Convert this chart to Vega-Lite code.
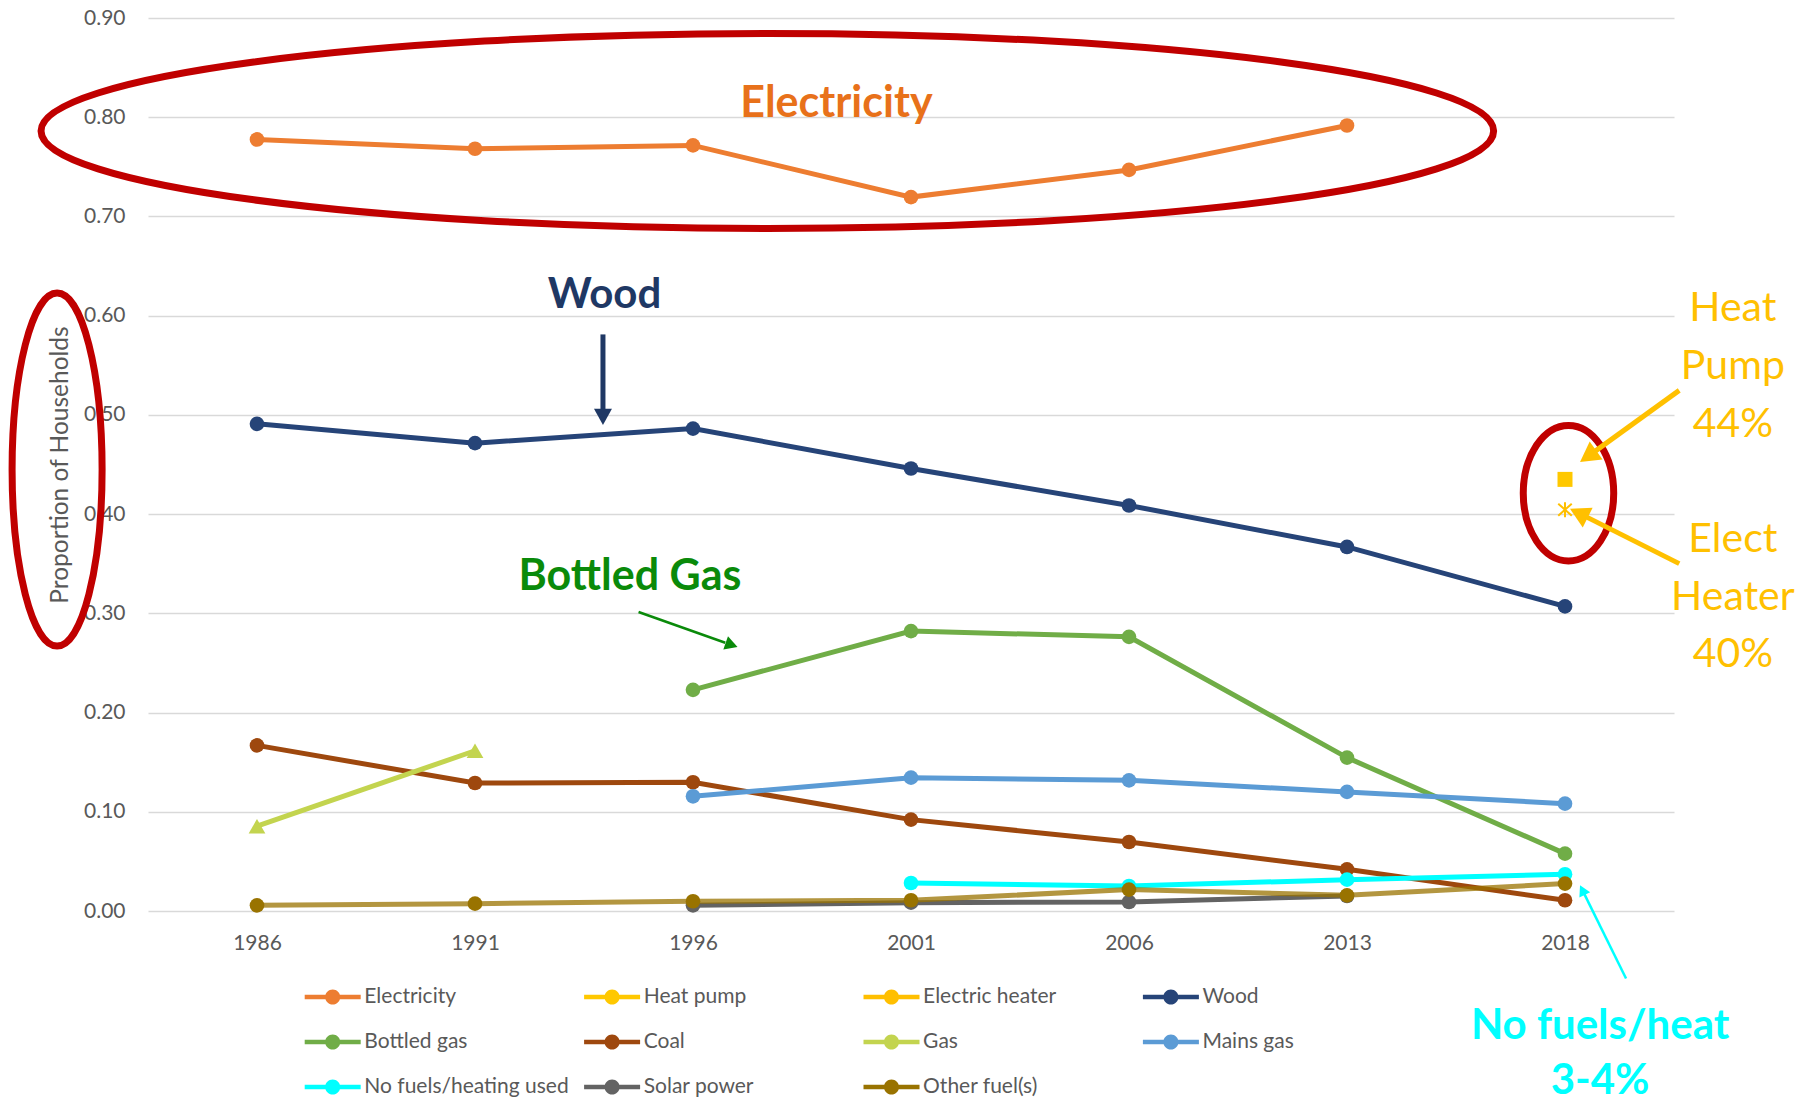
{
  "$schema": "https://vega.github.io/schema/vega-lite/v6.json",
  "autosize": "none",
  "width": 1526,
  "height": 893,
  "padding": {"left": 148, "top": 18, "right": 134, "bottom": 189},
  "background": "white",
  "config": {
    "view": {"stroke": null},
    "font": "Lato",
    "axis": {"labelFont": "Lato", "titleFont": "Lato"},
    "legend": {"labelFont": "Lato"}
  },
  "layer": [
    {
      "data": {"values": [
        {"year": "1986", "series": "Electricity", "value": 0.7776},
        {"year": "1991", "series": "Electricity", "value": 0.7682},
        {"year": "1996", "series": "Electricity", "value": 0.7716},
        {"year": "2001", "series": "Electricity", "value": 0.7195},
        {"year": "2006", "series": "Electricity", "value": 0.7469},
        {"year": "2013", "series": "Electricity", "value": 0.7917},
        {"year": "2018", "series": "Heat pump", "value": 0.435},
        {"year": "2018", "series": "Electric heater", "value": 0.4045},
        {"year": "1986", "series": "Wood", "value": 0.491},
        {"year": "1991", "series": "Wood", "value": 0.4715},
        {"year": "1996", "series": "Wood", "value": 0.4862},
        {"year": "2001", "series": "Wood", "value": 0.446},
        {"year": "2006", "series": "Wood", "value": 0.4087},
        {"year": "2013", "series": "Wood", "value": 0.3669},
        {"year": "2018", "series": "Wood", "value": 0.307},
        {"year": "1996", "series": "Bottled gas", "value": 0.2229},
        {"year": "2001", "series": "Bottled gas", "value": 0.2821},
        {"year": "2006", "series": "Bottled gas", "value": 0.2763},
        {"year": "2013", "series": "Bottled gas", "value": 0.1546},
        {"year": "2018", "series": "Bottled gas", "value": 0.0578},
        {"year": "1986", "series": "Coal", "value": 0.1669},
        {"year": "1991", "series": "Coal", "value": 0.129},
        {"year": "1996", "series": "Coal", "value": 0.1297},
        {"year": "2001", "series": "Coal", "value": 0.0921},
        {"year": "2006", "series": "Coal", "value": 0.0695},
        {"year": "2013", "series": "Coal", "value": 0.042},
        {"year": "2018", "series": "Coal", "value": 0.0108},
        {"year": "1986", "series": "Gas", "value": 0.0855},
        {"year": "1991", "series": "Gas", "value": 0.1615},
        {"year": "1996", "series": "Mains gas", "value": 0.1156},
        {"year": "2001", "series": "Mains gas", "value": 0.1344},
        {"year": "2006", "series": "Mains gas", "value": 0.1317},
        {"year": "2013", "series": "Mains gas", "value": 0.12},
        {"year": "2018", "series": "Mains gas", "value": 0.1082},
        {"year": "2001", "series": "No fuels/heating used", "value": 0.0282},
        {"year": "2006", "series": "No fuels/heating used", "value": 0.0252},
        {"year": "2013", "series": "No fuels/heating used", "value": 0.0316},
        {"year": "2018", "series": "No fuels/heating used", "value": 0.037},
        {"year": "1996", "series": "Solar power", "value": 0.0057},
        {"year": "2001", "series": "Solar power", "value": 0.0084},
        {"year": "2006", "series": "Solar power", "value": 0.0091},
        {"year": "2013", "series": "Solar power", "value": 0.0151},
        {"year": "1986", "series": "Other fuel(s)", "value": 0.0057},
        {"year": "1991", "series": "Other fuel(s)", "value": 0.0074},
        {"year": "1996", "series": "Other fuel(s)", "value": 0.0098},
        {"year": "2001", "series": "Other fuel(s)", "value": 0.0108},
        {"year": "2006", "series": "Other fuel(s)", "value": 0.0216},
        {"year": "2013", "series": "Other fuel(s)", "value": 0.0158},
        {"year": "2018", "series": "Other fuel(s)", "value": 0.0276}
      ]},
      "encoding": {
        "x": {
          "field": "year", "type": "ordinal",
          "scale": {"type": "point", "padding": 0.5},
          "axis": {"title": null, "labelAngle": 0, "grid": false, "domain": false, "ticks": false, "labelPadding": 21, "labelFontSize": 21, "labelColor": "#595959"}
        },
        "y": {
          "field": "value", "type": "quantitative",
          "scale": {"domain": [0, 0.9], "nice": false, "zero": false},
          "axis": {
            "values": [0, 0.1, 0.2, 0.3, 0.4, 0.5, 0.6, 0.7, 0.8, 0.9],
            "format": ".2f", "grid": true, "gridColor": "#D9D9D9", "gridWidth": 1.5,
            "domain": false, "ticks": false, "labelPadding": 23, "labelFontSize": 21, "labelColor": "#595959",
            "title": "Proportion of Households", "titleFontSize": 24.5, "titleColor": "#595959", "titleFontWeight": "normal", "titlePadding": 11
          }
        },
        "color": {
          "field": "series", "type": "nominal",
          "scale": {
            "domain": ["Electricity", "Heat pump", "Electric heater", "Wood", "Bottled gas", "Coal", "Gas", "Mains gas", "No fuels/heating used", "Solar power", "Other fuel(s)"],
            "range": ["#ED7D31", "#FFC800", "#FFBF00", "#264478", "#70AD47", "#9E480E", "#C3D44F", "#5B9BD5", "#00FFFF", "#636363", "#997300"]
          },
          "legend": {
            "title": null, "orient": "none", "legendX": 169.7, "legendY": 964, "columns": 4, "direction": "horizontal",
            "gridAlign": "all", "columnPadding": 14.4, "rowPadding": 20, "padding": 0,
            "symbolType": "M-1.8667,-0.1473L1.8667,-0.1473L1.8667,0.1473L-1.8667,0.1473ZM0.5027,0C0.5027,0.2776 0.2776,0.5027 0,0.5027C-0.2776,0.5027 -0.5027,0.2776 -0.5027,0C-0.5027,-0.2776 -0.2776,-0.5027 0,-0.5027C0.2776,-0.5027 0.5027,-0.2776 0.5027,0Z",
            "symbolSize": 900, "symbolStrokeWidth": 0, "labelOffset": 16.6, "labelFontSize": 21, "labelColor": "#595959", "labelLimit": 400,
            "symbolOpacity": 1
          }
        }
      },
      "layer": [
        {
          "mark": {"type": "line", "strokeWidth": 5},
          "encoding": {
            "opacity": {"condition": {"test": "datum.series === 'Other fuel(s)'", "value": 0.75}, "value": 1}
          }
        },
        {
          "transform": [{"filter": "datum.series !== 'Electric heater'"}],
          "mark": {"type": "point", "filled": true, "opacity": 1},
          "encoding": {
            "shape": {"condition": [{"test": "datum.series === 'Gas'", "value": "triangle-up"}, {"test": "datum.series === 'Heat pump'", "value": "square"}], "value": "circle"},
            "size": {"condition": [{"test": "datum.series === 'Gas'", "value": 280}, {"test": "datum.series === 'Heat pump'", "value": 225}], "value": 215}
          }
        },
        {
          "transform": [{"filter": "datum.series === 'Electric heater'"}],
          "mark": {"type": "point", "filled": false, "opacity": 1, "shape": "M0,-1L0,1M-0.9,-0.8L0.9,0.8M-0.9,0.8L0.9,-0.8", "size": 225, "strokeWidth": 2}
        }
      ]
    },
    {
      "layer": [
        {
          "data": {"values": [{"note": "electricity ring"}]},
          "mark": {"type": "point", "filled": false, "shape": "M1,0C1,0.0741 0.5523,0.1342 0,0.1342C-0.5523,0.1342 -1,0.0741 -1,0C-1,-0.0741 -0.5523,-0.1342 0,-0.1342C0.5523,-0.1342 1,-0.0741 1,0Z", "size": 2110047, "stroke": "#C00000", "strokeWidth": 7, "opacity": 1},
          "encoding": {
            "x": {"datum": 2.341, "type": "quantitative", "scale": {"domain": [-0.5, 6.5], "nice": false, "zero": false}, "axis": null},
            "y": {"datum": 0.7862, "type": "quantitative", "scale": {"domain": [0, 0.9], "nice": false, "zero": false}, "axis": null}
          }
        },
        {
          "data": {"values": [{"note": "axis ring"}]},
          "mark": {"type": "point", "filled": false, "shape": "M0.255,0C0.255,0.5523 0.1408,1 0,1C-0.1408,1 -0.255,0.5523 -0.255,0C-0.255,-0.5523 -0.1408,-1 0,-1C0.1408,-1 0.255,-0.5523 0.255,0Z", "size": 124609, "stroke": "#C00000", "strokeWidth": 7, "opacity": 1},
          "encoding": {
            "x": {"datum": -0.917, "type": "quantitative", "scale": {"domain": [-0.5, 6.5], "nice": false, "zero": false}, "axis": null},
            "y": {"datum": 0.4449, "type": "quantitative", "scale": {"domain": [0, 0.9], "nice": false, "zero": false}, "axis": null}
          }
        },
        {
          "data": {"values": [{"note": "heat ring"}]},
          "mark": {"type": "point", "filled": false, "shape": "M0.667,0C0.667,0.5523 0.3684,1 0,1C-0.3684,1 -0.667,0.5523 -0.667,0C-0.667,-0.5523 -0.3684,-1 0,-1C0.3684,-1 0.667,-0.5523 0.667,0Z", "size": 18387, "stroke": "#C00000", "strokeWidth": 7, "opacity": 1},
          "encoding": {
            "x": {"datum": 6.016, "type": "quantitative", "scale": {"domain": [-0.5, 6.5], "nice": false, "zero": false}, "axis": null},
            "y": {"datum": 0.4211, "type": "quantitative", "scale": {"domain": [0, 0.9], "nice": false, "zero": false}, "axis": null}
          }
        },
        {
          "data": {"values": [{"note": "Electricity"}]},
          "mark": {"type": "text", "fontSize": 43, "fontWeight": "bold", "color": "#E8711A", "align": "center", "baseline": "alphabetic"},
          "encoding": {
            "text": {"field": "note"},
            "x": {"datum": 2.658, "type": "quantitative", "scale": {"domain": [-0.5, 6.5], "nice": false, "zero": false}, "axis": null},
            "y": {"datum": 0.8001, "type": "quantitative", "scale": {"domain": [0, 0.9], "nice": false, "zero": false}, "axis": null}
          }
        },
        {
          "data": {"values": [{"note": "Wood"}]},
          "mark": {"type": "text", "fontSize": 42, "fontWeight": "bold", "color": "#1F3864", "align": "center", "baseline": "alphabetic"},
          "encoding": {
            "text": {"field": "note"},
            "x": {"datum": 1.594, "type": "quantitative", "scale": {"domain": [-0.5, 6.5], "nice": false, "zero": false}, "axis": null},
            "y": {"datum": 0.6076, "type": "quantitative", "scale": {"domain": [0, 0.9], "nice": false, "zero": false}, "axis": null}
          }
        },
        {
          "data": {"values": [{"note": "Bottled Gas"}]},
          "mark": {"type": "text", "fontSize": 43, "fontWeight": "bold", "color": "#0A8A0A", "align": "center", "baseline": "alphabetic"},
          "encoding": {
            "text": {"field": "note"},
            "x": {"datum": 1.7108, "type": "quantitative", "scale": {"domain": [-0.5, 6.5], "nice": false, "zero": false}, "axis": null},
            "y": {"datum": 0.3239, "type": "quantitative", "scale": {"domain": [0, 0.9], "nice": false, "zero": false}, "axis": null}
          }
        },
        {
          "data": {"values": [{"note": "Heat pump"}]},
          "mark": {"type": "text", "text": ["Heat", "Pump", "44%"], "fontSize": 41, "lineHeight": 58, "color": "#FFC000", "align": "center", "baseline": "alphabetic"},
          "encoding": {
            "x": {"datum": 6.77, "type": "quantitative", "scale": {"domain": [-0.5, 6.5], "nice": false, "zero": false}, "axis": null},
            "y": {"datum": 0.5946, "type": "quantitative", "scale": {"domain": [0, 0.9], "nice": false, "zero": false}, "axis": null}
          }
        },
        {
          "data": {"values": [{"note": "Electric heater"}]},
          "mark": {"type": "text", "text": ["Elect", "Heater", "40%"], "fontSize": 41, "lineHeight": 57.5, "color": "#FFC000", "align": "center", "baseline": "alphabetic"},
          "encoding": {
            "x": {"datum": 6.77, "type": "quantitative", "scale": {"domain": [-0.5, 6.5], "nice": false, "zero": false}, "axis": null},
            "y": {"datum": 0.3617, "type": "quantitative", "scale": {"domain": [0, 0.9], "nice": false, "zero": false}, "axis": null}
          }
        },
        {
          "data": {"values": [{"note": "No fuels"}]},
          "mark": {"type": "text", "text": ["No fuels/heat", "3-4%"], "fontSize": 42, "fontWeight": "bold", "lineHeight": 55, "color": "#00FFFF", "align": "center", "baseline": "alphabetic"},
          "encoding": {
            "x": {"datum": 6.161, "type": "quantitative", "scale": {"domain": [-0.5, 6.5], "nice": false, "zero": false}, "axis": null},
            "y": {"datum": -0.1286, "type": "quantitative", "scale": {"domain": [0, 0.9], "nice": false, "zero": false}, "axis": null}
          }
        },
        {
          "data": {"values": [{"note": "wood arrow"}]},
          "mark": {"type": "rule", "color": "#1F3864", "strokeWidth": 5},
          "encoding": {
            "x": {"datum": 1.587, "type": "quantitative", "scale": {"domain": [-0.5, 6.5], "nice": false, "zero": false}, "axis": null},
            "x2": {"datum": 1.587},
            "y": {"datum": 0.5811, "type": "quantitative", "scale": {"domain": [0, 0.9], "nice": false, "zero": false}, "axis": null},
            "y2": {"datum": 0.505}
          }
        },
        {
          "data": {"values": [{"note": "wood arrowhead"}]},
          "mark": {"type": "point", "filled": true, "shape": "M0,-1L1,0.8L-1,0.8Z", "size": 324, "angle": 180, "color": "#1F3864", "opacity": 1},
          "encoding": {
            "x": {"datum": 1.587, "type": "quantitative", "scale": {"domain": [-0.5, 6.5], "nice": false, "zero": false}, "axis": null},
            "y": {"datum": 0.499, "type": "quantitative", "scale": {"domain": [0, 0.9], "nice": false, "zero": false}, "axis": null}
          }
        },
        {
          "data": {"values": [{"note": "bottled gas arrow"}]},
          "mark": {"type": "rule", "color": "#0A8A0A", "strokeWidth": 2.5},
          "encoding": {
            "x": {"datum": 1.7503, "type": "quantitative", "scale": {"domain": [-0.5, 6.5], "nice": false, "zero": false}, "axis": null},
            "x2": {"datum": 2.1479},
            "y": {"datum": 0.3013, "type": "quantitative", "scale": {"domain": [0, 0.9], "nice": false, "zero": false}, "axis": null},
            "y2": {"datum": 0.2704}
          }
        },
        {
          "data": {"values": [{"note": "bottled gas arrowhead"}]},
          "mark": {"type": "point", "filled": true, "shape": "M0,-1L1,0.8L-1,0.8Z", "size": 196, "angle": 109.5, "color": "#0A8A0A", "opacity": 1},
          "encoding": {
            "x": {"datum": 2.174, "type": "quantitative", "scale": {"domain": [-0.5, 6.5], "nice": false, "zero": false}, "axis": null},
            "y": {"datum": 0.2683, "type": "quantitative", "scale": {"domain": [0, 0.9], "nice": false, "zero": false}, "axis": null}
          }
        },
        {
          "data": {"values": [{"note": "heat pump arrow"}]},
          "mark": {"type": "rule", "color": "#FFC000", "strokeWidth": 5},
          "encoding": {
            "x": {"datum": 6.524, "type": "quantitative", "scale": {"domain": [-0.5, 6.5], "nice": false, "zero": false}, "axis": null},
            "x2": {"datum": 6.115},
            "y": {"datum": 0.5247, "type": "quantitative", "scale": {"domain": [0, 0.9], "nice": false, "zero": false}, "axis": null},
            "y2": {"datum": 0.4597}
          }
        },
        {
          "data": {"values": [{"note": "heat pump arrowhead"}]},
          "mark": {"type": "point", "filled": true, "shape": "M0,-1L1,0.8L-1,0.8Z", "size": 484, "angle": 234.2, "color": "#FFC000", "opacity": 1},
          "encoding": {
            "x": {"datum": 6.11, "type": "quantitative", "scale": {"domain": [-0.5, 6.5], "nice": false, "zero": false}, "axis": null},
            "y": {"datum": 0.4589, "type": "quantitative", "scale": {"domain": [0, 0.9], "nice": false, "zero": false}, "axis": null}
          }
        },
        {
          "data": {"values": [{"note": "electric heater arrow"}]},
          "mark": {"type": "rule", "color": "#FFC000", "strokeWidth": 5},
          "encoding": {
            "x": {"datum": 6.524, "type": "quantitative", "scale": {"domain": [-0.5, 6.5], "nice": false, "zero": false}, "axis": null},
            "x2": {"datum": 6.068},
            "y": {"datum": 0.3501, "type": "quantitative", "scale": {"domain": [0, 0.9], "nice": false, "zero": false}, "axis": null},
            "y2": {"datum": 0.4005}
          }
        },
        {
          "data": {"values": [{"note": "electric heater arrowhead"}]},
          "mark": {"type": "point", "filled": true, "shape": "M0,-1L1,0.8L-1,0.8Z", "size": 484, "angle": 296.7, "color": "#FFC000", "opacity": 1},
          "encoding": {
            "x": {"datum": 6.068, "type": "quantitative", "scale": {"domain": [-0.5, 6.5], "nice": false, "zero": false}, "axis": null},
            "y": {"datum": 0.4005, "type": "quantitative", "scale": {"domain": [0, 0.9], "nice": false, "zero": false}, "axis": null}
          }
        },
        {
          "data": {"values": [{"note": "no fuels arrow"}]},
          "mark": {"type": "rule", "color": "#00FFFF", "strokeWidth": 2.5},
          "encoding": {
            "x": {"datum": 6.28, "type": "quantitative", "scale": {"domain": [-0.5, 6.5], "nice": false, "zero": false}, "axis": null},
            "x2": {"datum": 6.081},
            "y": {"datum": -0.0681, "type": "quantitative", "scale": {"domain": [0, 0.9], "nice": false, "zero": false}, "axis": null},
            "y2": {"datum": 0.0205}
          }
        },
        {
          "data": {"values": [{"note": "no fuels arrowhead"}]},
          "mark": {"type": "point", "filled": true, "shape": "M0,-1L1,0.8L-1,0.8Z", "size": 144, "angle": 333.8, "color": "#00FFFF", "opacity": 1},
          "encoding": {
            "x": {"datum": 6.081, "type": "quantitative", "scale": {"domain": [-0.5, 6.5], "nice": false, "zero": false}, "axis": null},
            "y": {"datum": 0.0205, "type": "quantitative", "scale": {"domain": [0, 0.9], "nice": false, "zero": false}, "axis": null}
          }
        }
      ]
    }
  ],
  "resolve": {"scale": {"x": "independent", "y": "independent"}}
}
